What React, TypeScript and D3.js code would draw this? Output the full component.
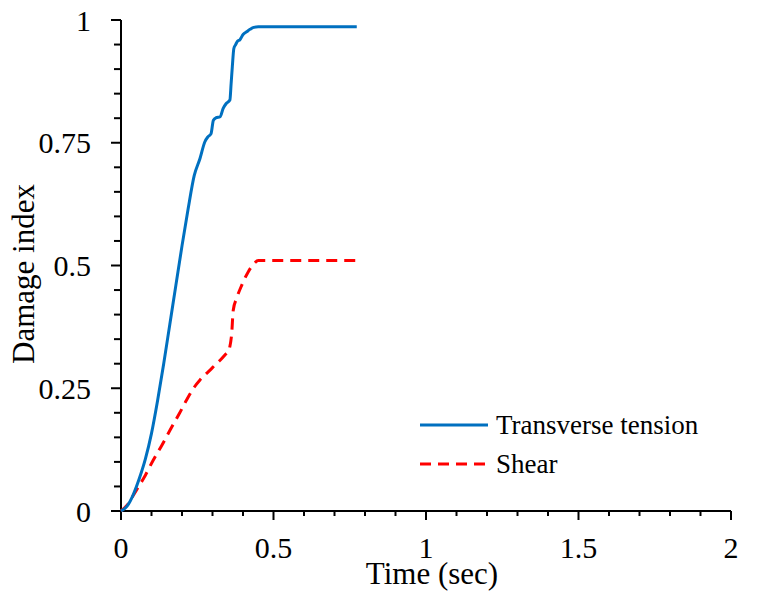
import React from "react";
import * as d3 from "d3";

const tensionTime = [0, 0.02, 0.04, 0.06, 0.08, 0.1, 0.12, 0.14, 0.16, 0.18, 0.2, 0.22, 0.24, 0.259, 0.275, 0.285, 0.295, 0.303, 0.312, 0.325, 0.335, 0.345, 0.357, 0.361, 0.365, 0.37, 0.376, 0.381, 0.39, 0.401, 0.412, 0.423, 0.435, 0.45, 0.6, 0.773];
const tensionValue = [0, 0.01, 0.033, 0.066, 0.106, 0.158, 0.225, 0.3, 0.38, 0.46, 0.54, 0.615, 0.683, 0.718, 0.752, 0.762, 0.768, 0.796, 0.801, 0.803, 0.82, 0.83, 0.837, 0.87, 0.905, 0.942, 0.95, 0.956, 0.96, 0.971, 0.976, 0.981, 0.985, 0.986, 0.986, 0.986];

const shearTime = [0, 0.02, 0.051, 0.08, 0.106, 0.135, 0.161, 0.19, 0.215, 0.24, 0.259, 0.275, 0.292, 0.308, 0.325, 0.341, 0.352, 0.357, 0.363, 0.368, 0.379, 0.396, 0.417, 0.435, 0.45, 0.6, 0.773];
const shearValue = [0, 0.012, 0.043, 0.073, 0.104, 0.135, 0.165, 0.197, 0.226, 0.252, 0.267, 0.277, 0.287, 0.297, 0.307, 0.318, 0.326, 0.335, 0.362, 0.409, 0.433, 0.46, 0.487, 0.503, 0.51, 0.51, 0.51];

const xTicks = [0, 0.5, 1, 1.5, 2];
const xTickLabels = ["0", "0.5", "1", "1.5", "2"];
const yTicks = [0, 0.25, 0.5, 0.75, 1];
const yTickLabels = ["0", "0.25", "0.5", "0.75", "1"];
const seriesNames = ["Transverse tension", "Shear"];

export default function App() {
  const W = 759, H = 606;
  const left = 121, right = 731, top = 20, bottom = 511;
  const x = d3.scaleLinear().domain([0, 2]).range([left, right]);
  const y = d3.scaleLinear().domain([0, 1]).range([bottom, top]);
  const line = d3.line<[number, number]>().x(d => x(d[0])).y(d => y(d[1])).curve(d3.curveMonotoneX);
  const tension = tensionTime.map((t, i) => [t, tensionValue[i]] as [number, number]);
  const shear = shearTime.map((t, i) => [t, shearValue[i]] as [number, number]);
  const xMinor = d3.range(0, 21).map(i => i * 0.1);
  const yMinor = d3.range(0, 21).map(i => i * 0.05);
  const fam = '"Liberation Serif"';
  const tick: React.CSSProperties = { fontFamily: fam, fontSize: "30px" };
  const title: React.CSSProperties = { fontFamily: fam, fontSize: "31px" };
  const leg: React.CSSProperties = { fontFamily: fam, fontSize: "27px" };

  return (
    <svg width={W} height={H} style={{ position: "absolute", left: 0, top: 0, background: "#fff" }}>
      <rect width={W} height={H} fill="#fff" />
      <line x1={left} x2={left} y1={top} y2={bottom} stroke="#000" strokeWidth={2} />
      {yMinor.map((v, i) => {
        const major = i % 5 === 0;
        return <line key={"ym" + i} x1={left - (major ? 10 : 7)} x2={left} y1={y(v)} y2={y(v)} stroke="#000" strokeWidth={2} />;
      })}
      {yTicks.map((v, i) => (
        <text key={"yt" + i} x={91} y={y(v)} dy="0.35em" textAnchor="end" style={tick}>{yTickLabels[i]}</text>
      ))}
      <line x1={left} x2={right} y1={bottom} y2={bottom} stroke="#000" strokeWidth={2} />
      {xMinor.map((v, i) => {
        const major = i % 5 === 0;
        return <line key={"xm" + i} x1={x(v)} x2={x(v)} y1={bottom} y2={bottom + (major ? 9 : 5)} stroke="#000" strokeWidth={2} />;
      })}
      {xTicks.map((v, i) => (
        <text key={"xt" + i} x={x(v)} y={558} textAnchor="middle" style={tick}>{xTickLabels[i]}</text>
      ))}
      <text x={432} y={584} textAnchor="middle" style={title}>Time (sec)</text>
      <text transform={`translate(34,274) rotate(-90)`} textAnchor="middle" style={title}>Damage index</text>
      <path d={line(shear) || ""} fill="none" stroke="#FF0000" strokeWidth={3} strokeDasharray="11,7" />
      <path d={line(tension) || ""} fill="none" stroke="#0070C0" strokeWidth={3} />
      <line x1={420} x2={488} y1={425} y2={425} stroke="#0070C0" strokeWidth={3} />
      <text x={496} y={434} style={leg}>{seriesNames[0]}</text>
      <line x1={420} x2={488} y1={464} y2={464} stroke="#FF0000" strokeWidth={3} strokeDasharray="11,7" />
      <text x={496} y={473} style={leg}>{seriesNames[1]}</text>
    </svg>
  );
}
